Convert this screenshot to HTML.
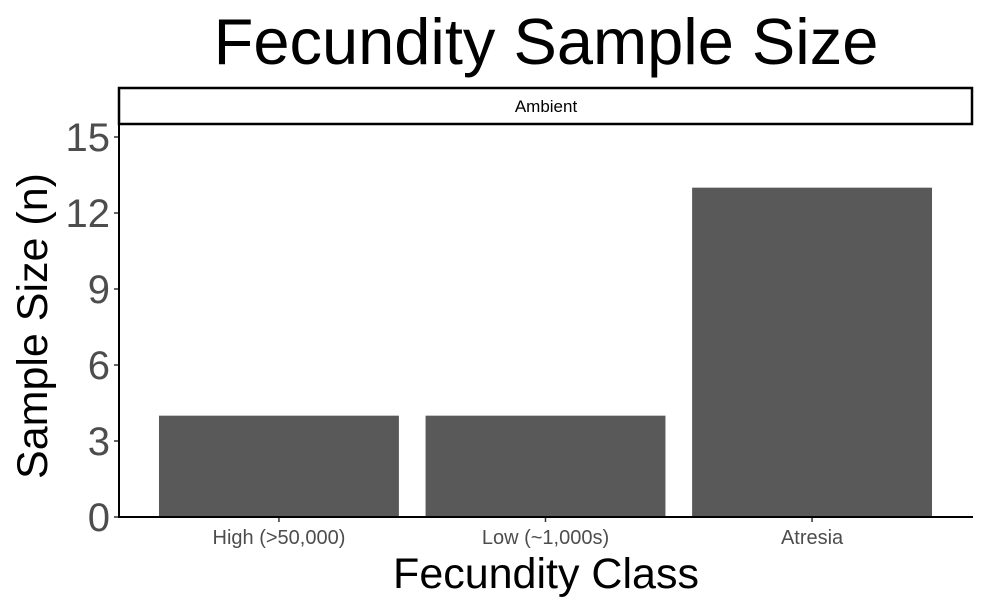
<!DOCTYPE html>
<html><head><meta charset="utf-8"><style>
body{margin:0;background:#fff}
text{font-family:"Liberation Sans",sans-serif}
</style></head><body>
<svg width="986" height="609" viewBox="0 0 986 609" id="c">
<rect width="986" height="609" fill="#fff"/>
<text x="546" y="64" font-size="65" text-anchor="middle">Fecundity Sample Size</text>
<rect x="119" y="88" width="853" height="36" fill="#fff" stroke="#000" stroke-width="2.5"/>
<text x="546" y="112" font-size="17" text-anchor="middle">Ambient</text>
<text transform="translate(47,326) rotate(-90)" font-size="43" text-anchor="middle">Sample Size (n)</text>
<text x="546" y="588" font-size="43" text-anchor="middle">Fecundity Class</text>
<g id="bars"></g><g id="axes"></g>
</svg>
<script>
const categories=["High (>50,000)","Low (~1,000s)","Atresia"];
const values=[4,4,13];
const yTicks=[0,3,6,9,12,15];
const x0=119,x1=972,yBase=517,yTop=137,yMax=15;
const ns="http://www.w3.org/2000/svg";
const y=v=>yBase-(yBase-yTop)*v/yMax;
const band=(x1-x0)/(categories.length-1+1.2), bw=band*0.9;
const bars=document.getElementById('bars'),axes=document.getElementById('axes');
function mk(t,a,p){const e=document.createElementNS(ns,t);for(const k in a)e.setAttribute(k,a[k]);p.appendChild(e);return e;}
categories.forEach((c,i)=>{
  const cx=x0+band*(i+0.6);
  const r=mk('rect',{x:cx-bw/2,y:y(values[i]),width:bw,height:yBase-y(values[i]),fill:'#595959'},bars);
  
  
  mk('line',{x1:cx,x2:cx,y1:yBase,y2:yBase+5,stroke:'#333','stroke-width':1.5},axes);
  const t=mk('text',{x:cx,y:544,'font-size':20,fill:'#4d4d4d','text-anchor':'middle'},axes);
  t.textContent=c;
  
  
});
yTicks.forEach(v=>{
  mk('line',{x1:x0-5,x2:x0,y1:y(v),y2:y(v),stroke:'#333','stroke-width':1.5},axes);
  const t=mk('text',{x:x0-9,y:y(v)+14,'font-size':40,fill:'#4d4d4d','text-anchor':'end'},axes);
  t.textContent=v;
  
  
});
const ya=mk('line',{x1:x0,x2:x0,y1:125,y2:yBase+1,stroke:'#000','stroke-width':2},axes);


const xa=mk('line',{x1:x0-1,x2:x1+1,y1:yBase,y2:yBase,stroke:'#000','stroke-width':2},axes);


</script>
</body></html>
